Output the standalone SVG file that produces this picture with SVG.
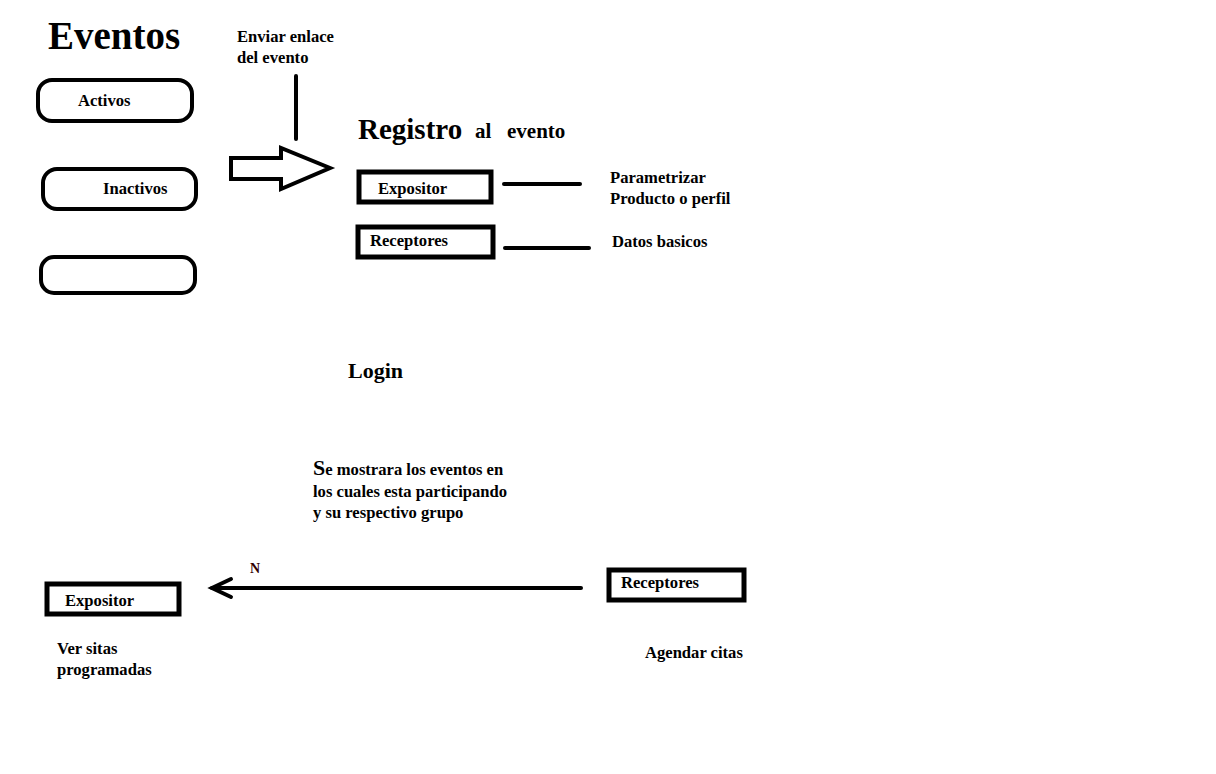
<svg xmlns="http://www.w3.org/2000/svg" width="1216" height="774" viewBox="0 0 1216 774">
<style>
text{font-family:"Liberation Serif","DejaVu Serif",serif;font-weight:bold;fill:#000;font-size:16.6px}
.box{fill:none;stroke:#000;stroke-width:5}
.rbox{fill:none;stroke:#000;stroke-width:4}
.ln{stroke:#000;stroke-width:4;stroke-linecap:round;fill:none}
</style>
<rect width="1216" height="774" fill="#fff"/>
<text x="48" y="49" style="font-size:39px">Eventos</text>
<g id="activos"><rect class="rbox" x="38" y="80" width="154" height="41" rx="14"/><text x="78" y="106">Activos</text></g>
<g id="inactivos"><rect class="rbox" x="43" y="169" width="153" height="40" rx="14"/><text x="103" y="194">Inactivos</text></g>
<g id="vacio"><rect class="rbox" x="41" y="257" width="154" height="36" rx="13"/></g>
<text x="237" y="42">Enviar enlace</text>
<text x="237" y="63">del evento</text>
<text x="358" y="139" style="font-size:29px">Registro</text>
<text x="475" y="138" style="font-size:21px">al</text>
<text x="507" y="138" style="font-size:21px">evento</text>
<g id="expositor1"><rect class="box" x="359" y="172" width="132" height="30"/><text x="378" y="194">Expositor</text></g>
<g id="receptores1"><rect class="box" x="358" y="227" width="135" height="30"/><text x="370" y="246">Receptores</text></g>
<text x="610" y="183">Parametrizar</text>
<text x="610" y="204">Producto o perfil</text>
<text x="612" y="247">Datos basicos</text>
<text x="348" y="378" style="font-size:22px">Login</text>
<text x="313" y="475"><tspan style="font-size:22px">S</tspan>e mostrara los eventos en</text>
<text x="313" y="497">los cuales esta participando</text>
<text x="313" y="518">y su respectivo grupo</text>
<g id="expositor2"><rect class="box" x="47" y="584" width="132" height="30"/><text x="65" y="606">Expositor</text></g>
<g id="receptores2"><rect class="box" x="609" y="570" width="135" height="30"/><text x="621" y="588">Receptores</text></g>
<text x="57" y="654">Ver sitas</text>
<text x="57" y="675">programadas</text>
<text x="645" y="658">Agendar citas</text>
<text x="250" y="573" style="font-size:14px;fill:#300">N</text>
<g id="connectors">
<line class="ln" x1="296" y1="76" x2="296" y2="139"/>
<polygon points="231,158 281,158 281,148 330,168 281,189 281,179 231,179" fill="none" stroke="#000" stroke-width="4" stroke-linejoin="miter"/>
<line class="ln" x1="504" y1="184" x2="580" y2="184"/>
<line class="ln" x1="505" y1="248" x2="589" y2="248"/>
<line class="ln" x1="581" y1="588" x2="212" y2="588"/>
<polyline class="ln" points="231,579 212,588 231,597"/>
</g>
</svg>
